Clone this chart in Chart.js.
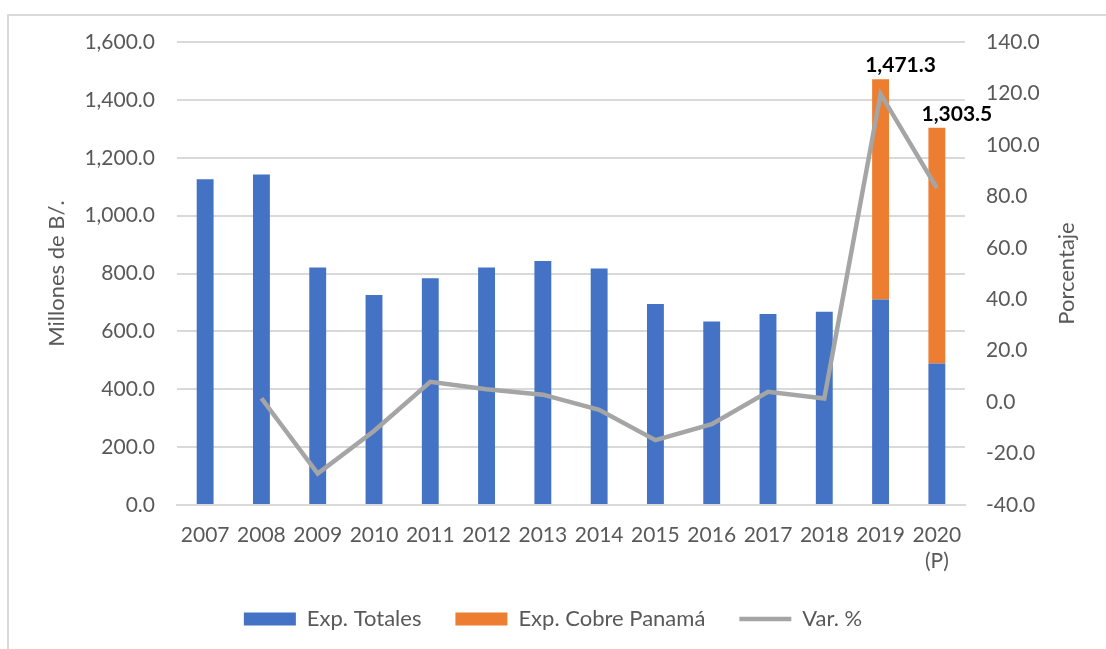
<!DOCTYPE html>
<html>
<head>
<meta charset="utf-8">
<script src="https://cdn.jsdelivr.net/npm/chart.js@4"></script>
<style>
  html, body { margin: 0; padding: 0; background: #fff; overflow: hidden; }
  #marco { position: absolute; left: 7px; top: 14px; width: 1200px; height: 700px; border: 2px solid #d9d9d9; }
  #caja { position: absolute; left: 0; top: 0; width: 1106px; height: 649px; }
</style>
</head>
<body>
<div id="marco"></div>
<div id="caja"><canvas id="grafico"></canvas></div>
<script>
// Datos
const anios = ["2007", "2008", "2009", "2010", "2011", "2012", "2013", "2014", "2015", "2016", "2017", "2018", "2019", ["2020", "(P)"]];
const expTotales = [1125.5, 1142.0, 821.0, 726.0, 784.0, 821.0, 843.5, 817.0, 695.0, 634.0, 660.0, 668.0, 710.5, 489.0];
const expCobre = [0, 0, 0, 0, 0, 0, 0, 0, 0, 0, 0, 0, 760.8, 814.5];
const varPorc = [null, 1.5, -27.8, -11.2, 7.9, 5.0, 2.9, -3.0, -14.8, -8.6, 4.0, 1.4, 119.8, 83.2];

const gris = "#595959";
const fuente = "Lato, 'Open Sans', sans-serif";

const formato = (v) => v.toLocaleString("en-US", { minimumFractionDigits: 1, maximumFractionDigits: 1 });

// Etiquetas con el total encima de las barras apiladas + título del eje derecho
const etiquetasTotales = {
    id: "etiquetasTotales",
    afterDatasetsDraw(chart) {
        const meta = chart.getDatasetMeta(1);
        const ctx = chart.ctx;
        ctx.save();
        ctx.font = "bold 21px " + fuente;
        ctx.fillStyle = "#000";
        ctx.textAlign = "center";
        ctx.textBaseline = "middle";
        expCobre.forEach((v, i) => {
            if (!v) return;
            const barra = meta.data[i];
            ctx.fillText(formato(expTotales[i] + v), barra.x + 20, barra.y - 14);
        });
        // título "Porcentaje" girado como en Excel
        const area = chart.chartArea;
        ctx.translate(chart.scales.y1.right - 39, (area.top + area.bottom) / 2);
        ctx.rotate(-Math.PI / 2);
        ctx.font = "22px " + fuente;
        ctx.fillStyle = gris;
        ctx.fillText("Porcentaje", 0, 0);
        ctx.restore();
    }
};

const ctx = document.querySelector("#grafico").getContext("2d");
const myChart = new Chart(ctx, {
    data: {
        labels: anios,
        datasets: [
            {
                type: "bar",
                label: "Exp. Totales",
                data: expTotales,
                yAxisID: "y",
                backgroundColor: "#4472c4",
                pointStyle: "rect",
                stack: "a",
                order: 1,
            },
            {
                type: "bar",
                label: "Exp. Cobre Panamá",
                data: expCobre,
                yAxisID: "y",
                backgroundColor: "#ed7d31",
                pointStyle: "rect",
                stack: "a",
                order: 2,
            },
            {
                type: "line",
                label: "Var. %",
                data: varPorc,
                yAxisID: "y1",
                borderColor: "#a5a5a5",
                backgroundColor: "#a5a5a5",
                borderWidth: 4.5,
                pointRadius: 0,
                pointStyle: "line",
                tension: 0,
                order: 0,
            },
        ],
    },
    options: {
        responsive: true,
        maintainAspectRatio: false,
        animation: false,
        datasets: {
            bar: { barPercentage: 0.6, categoryPercentage: 0.5 },
        },
        layout: { padding: { top: 42, bottom: 9, left: 0, right: 0 } },
        plugins: {
            tooltip: { enabled: false },
            legend: {
                position: "bottom",
                labels: {
                    usePointStyle: true,
                    pointStyleWidth: 52,
                    boxHeight: 13,
                    padding: 34,
                    color: gris,
                    font: { family: fuente, size: 22 },
                    sort: (a, b) => a.datasetIndex - b.datasetIndex,
                },
            },
        },
        scales: {
            x: {
                stacked: true,
                grid: { display: false },
                border: { display: true, color: "#d9d9d9", width: 2 },
                ticks: { color: gris, font: { family: fuente, size: 21 }, maxRotation: 0, padding: 10 },
                afterFit: (s) => { s.height = 69; },
            },
            y: {
                stacked: true,
                position: "left",
                min: 0,
                max: 1600,
                ticks: { stepSize: 200, color: gris, font: { family: fuente, size: 21 }, padding: 22, callback: (v) => formato(v) },
                grid: { color: "#d9d9d9", lineWidth: 2, drawTicks: false },
                border: { display: false },
                title: { display: true, text: "Millones de B/.", color: gris, font: { family: fuente, size: 22 }, padding: { top: 44 } },
                afterFit: (s) => { s.width = 177; },
            },
            y1: {
                position: "right",
                min: -40,
                max: 140,
                ticks: { stepSize: 20, color: gris, font: { family: fuente, size: 21 }, padding: 21, callback: (v) => formato(v) },
                grid: { display: false, drawTicks: false },
                border: { display: false },
                afterFit: (s) => { s.width = 141; },
            },
        },
    },
    plugins: [etiquetasTotales],
});
</script>
</body>
</html>
